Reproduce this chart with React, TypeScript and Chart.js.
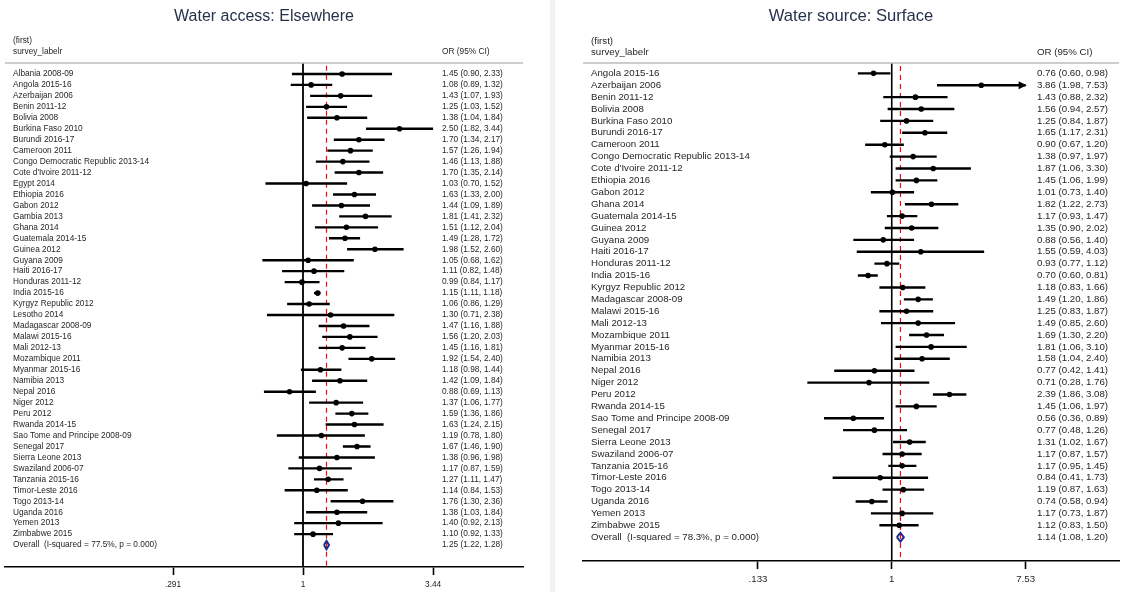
import React, { useEffect, useRef } from 'react';
import { Chart, registerables } from 'chart.js';

Chart.register(...registerables);

const FONT = '"Liberation Sans", Arial, Helvetica, sans-serif';

// ---------------- Left panel data ----------------
const leftTitle = 'Water access: Elsewhere';
const leftCountries = [
  'Albania 2008-09', 'Angola 2015-16', 'Azerbaijan 2006', 'Benin 2011-12', 'Bolivia 2008',
  'Burkina Faso 2010', 'Burundi 2016-17', 'Cameroon 2011', 'Congo Democratic Republic 2013-14',
  "Cote d'Ivoire 2011-12", 'Egypt 2014', 'Ethiopia 2016', 'Gabon 2012', 'Gambia 2013',
  'Ghana 2014', 'Guatemala 2014-15', 'Guinea 2012', 'Guyana 2009', 'Haiti 2016-17',
  'Honduras 2011-12', 'India 2015-16', 'Kyrgyz Republic 2012', 'Lesotho 2014',
  'Madagascar 2008-09', 'Malawi 2015-16', 'Mali 2012-13', 'Mozambique 2011', 'Myanmar 2015-16',
  'Namibia 2013', 'Nepal 2016', 'Niger 2012', 'Peru 2012', 'Rwanda 2014-15',
  'Sao Tome and Principe 2008-09', 'Senegal 2017', 'Sierra Leone 2013', 'Swaziland 2006-07',
  'Tanzania 2015-16', 'Timor-Leste 2016', 'Togo 2013-14', 'Uganda 2016', 'Yemen 2013',
  'Zimbabwe 2015',
];
const leftOR = [
  1.45, 1.08, 1.43, 1.25, 1.38, 2.50, 1.70, 1.57, 1.46, 1.70, 1.03, 1.63, 1.44, 1.81, 1.51,
  1.49, 1.98, 1.05, 1.11, 0.99, 1.15, 1.06, 1.30, 1.47, 1.56, 1.45, 1.92, 1.18, 1.42, 0.88,
  1.37, 1.59, 1.63, 1.19, 1.67, 1.38, 1.17, 1.27, 1.14, 1.76, 1.38, 1.40, 1.10,
];
const leftLower = [
  0.90, 0.89, 1.07, 1.03, 1.04, 1.82, 1.34, 1.26, 1.13, 1.35, 0.70, 1.33, 1.09, 1.41, 1.12,
  1.28, 1.52, 0.68, 0.82, 0.84, 1.11, 0.86, 0.71, 1.16, 1.20, 1.16, 1.54, 0.98, 1.09, 0.69,
  1.06, 1.36, 1.24, 0.78, 1.46, 0.96, 0.87, 1.11, 0.84, 1.30, 1.03, 0.92, 0.92,
];
const leftUpper = [
  2.33, 1.32, 1.93, 1.52, 1.84, 3.44, 2.17, 1.94, 1.88, 2.14, 1.52, 2.00, 1.89, 2.32, 2.04,
  1.72, 2.60, 1.62, 1.48, 1.17, 1.18, 1.29, 2.38, 1.88, 2.03, 1.81, 2.40, 1.44, 1.84, 1.13,
  1.77, 1.86, 2.15, 1.80, 1.90, 1.98, 1.59, 1.47, 1.53, 2.36, 1.84, 2.13, 1.33,
];
const leftArrowRows: string[] = [];
const leftOverall = [1.25, 1.22, 1.28];
const leftOverallLabel = 'Overall  (I-squared = 77.5%, p = 0.000)';
const leftTickValues = [0.291, 1, 3.44];
const leftTickLabels = ['.291', '1', '3.44'];

// ---------------- Right panel data ----------------
const rightTitle = 'Water source: Surface';
const rightCountries = [
  'Angola 2015-16', 'Azerbaijan 2006', 'Benin 2011-12', 'Bolivia 2008', 'Burkina Faso 2010',
  'Burundi 2016-17', 'Cameroon 2011', 'Congo Democratic Republic 2013-14', "Cote d'Ivoire 2011-12",
  'Ethiopia 2016', 'Gabon 2012', 'Ghana 2014', 'Guatemala 2014-15', 'Guinea 2012', 'Guyana 2009',
  'Haiti 2016-17', 'Honduras 2011-12', 'India 2015-16', 'Kyrgyz Republic 2012',
  'Madagascar 2008-09', 'Malawi 2015-16', 'Mali 2012-13', 'Mozambique 2011', 'Myanmar 2015-16',
  'Namibia 2013', 'Nepal 2016', 'Niger 2012', 'Peru 2012', 'Rwanda 2014-15',
  'Sao Tome and Principe 2008-09', 'Senegal 2017', 'Sierra Leone 2013', 'Swaziland 2006-07',
  'Tanzania 2015-16', 'Timor-Leste 2016', 'Togo 2013-14', 'Uganda 2016', 'Yemen 2013',
  'Zimbabwe 2015',
];
const rightOR = [
  0.76, 3.86, 1.43, 1.56, 1.25, 1.65, 0.90, 1.38, 1.87, 1.45, 1.01, 1.82, 1.17, 1.35, 0.88,
  1.55, 0.93, 0.70, 1.18, 1.49, 1.25, 1.49, 1.69, 1.81, 1.58, 0.77, 0.71, 2.39, 1.45, 0.56,
  0.77, 1.31, 1.17, 1.17, 0.84, 1.19, 0.74, 1.17, 1.12,
];
const rightLower = [
  0.60, 1.98, 0.88, 0.94, 0.84, 1.17, 0.67, 0.97, 1.06, 1.06, 0.73, 1.22, 0.93, 0.90, 0.56,
  0.59, 0.77, 0.60, 0.83, 1.20, 0.83, 0.85, 1.30, 1.06, 1.04, 0.42, 0.28, 1.86, 1.06, 0.36,
  0.48, 1.02, 0.87, 0.95, 0.41, 0.87, 0.58, 0.73, 0.83,
];
const rightUpper = [
  0.98, 7.53, 2.32, 2.57, 1.87, 2.31, 1.20, 1.97, 3.30, 1.99, 1.40, 2.73, 1.47, 2.02, 1.40,
  4.03, 1.12, 0.81, 1.66, 1.86, 1.87, 2.60, 2.20, 3.10, 2.40, 1.41, 1.76, 3.08, 1.97, 0.89,
  1.26, 1.67, 1.57, 1.45, 1.73, 1.63, 0.94, 1.87, 1.50,
];
const rightArrowRows = ['Azerbaijan 2006'];
const rightOverall = [1.14, 1.08, 1.20];
const rightOverallLabel = 'Overall  (I-squared = 78.3%, p = 0.000)';
const rightTickValues = [0.133, 1, 7.53];
const rightTickLabels = ['.133', '1', '7.53'];

const headerFirst = '(first)';
const headerLabel = 'survey_labelr';
const headerCI = 'OR (95% CI)';

type Panel = {
  title: string;
  labels: string[];
  or: number[];
  lo: number[];
  hi: number[];
  arrows: string[];
  overall: number[];
  overallLabel: string;
  tickValues: number[];
  tickLabels: string[];
  width: number;
  xMin: number;
  xMax: number;
  padLeft: number;
  padRight: number;
  padTop: number;
  axisHeight: number;
  yMin: number;
  yMax: number;
  fontSize: number;
  tickFont: number;
  tickPad: number;
  titleSize: number;
  titleY: number;
  headY1: number;
  headY2: number;
  ciX: number;
  inset: number;
  diamondHalf: number;
  ciWidth: number;
  nullWidth: number;
};

const leftPanel: Panel = {
  title: leftTitle, labels: leftCountries, or: leftOR, lo: leftLower, hi: leftUpper,
  arrows: leftArrowRows,
  overall: leftOverall, overallLabel: leftOverallLabel,
  tickValues: leftTickValues, tickLabels: leftTickLabels,
  width: 556, xMin: 0.059, xMax: 8.08, padLeft: 5, padRight: 33, padTop: 63, axisHeight: 25,
  yMin: -1, yMax: 45, fontSize: 8.3, tickFont: 8.3, tickPad: 5, titleSize: 16, titleY: 17,
  headY1: 41, headY2: 52, ciX: 442, inset: 8, diamondHalf: 0.38, ciWidth: 2.4, nullWidth: 1.8,
};

const rightPanel: Panel = {
  title: rightTitle, labels: rightCountries, or: rightOR, lo: rightLower, hi: rightUpper,
  arrows: rightArrowRows,
  overall: rightOverall, overallLabel: rightOverallLabel,
  tickValues: rightTickValues, tickLabels: rightTickLabels,
  width: 567, xMin: 0.0095, xMax: 30.8, padLeft: 27, padRight: 3, padTop: 63, axisHeight: 31,
  yMin: -0.87, yMax: 41, fontSize: 9.7, tickFont: 9.7, tickPad: 5, titleSize: 16.6, titleY: 16,
  headY1: 41, headY2: 52, ciX: 481, inset: 8, diamondHalf: 0.37, ciWidth: 2.4, nullWidth: 1.6,
};

const fmt = (v: number) => v.toFixed(2);

function makeTextPlugin(p: Panel) {
  return {
    id: 'forestText',
    afterDraw(chart: any) {
      const { ctx, chartArea, scales } = chart;
      const ys = scales.y;
      const xs = scales.x;
      const n = p.labels.length;
      ctx.save();
      // header separator
      ctx.strokeStyle = '#bcbcbc';
      ctx.lineWidth = 1.5;
      ctx.beginPath();
      ctx.moveTo(chartArea.left, chartArea.top);
      ctx.lineTo(chartArea.right, chartArea.top);
      ctx.stroke();
      // title
      ctx.fillStyle = '#27314d';
      ctx.font = `${p.titleSize}px ${FONT}`;
      ctx.textAlign = 'center';
      ctx.textBaseline = 'middle';
      ctx.fillText(p.title, (chartArea.left + chartArea.right) / 2, p.titleY);
      // headers
      ctx.fillStyle = '#262626';
      ctx.font = `${p.fontSize}px ${FONT}`;
      ctx.textAlign = 'left';
      const lx = chartArea.left + p.inset;
      ctx.fillText(headerFirst, lx, p.headY1);
      ctx.fillText(headerLabel, lx, p.headY2);
      ctx.fillText(headerCI, p.ciX, p.headY2);
      // rows
      for (let i = 0; i < n; i++) {
        const y = ys.getPixelForValue(i);
        ctx.fillText(p.labels[i], lx, y);
        ctx.fillText(`${fmt(p.or[i])} (${fmt(p.lo[i])}, ${fmt(p.hi[i])})`, p.ciX, y);
      }
      const yo = ys.getPixelForValue(n);
      ctx.fillText(p.overallLabel, lx, yo);
      ctx.fillText(`${fmt(p.overall[0])} (${fmt(p.overall[1])}, ${fmt(p.overall[2])})`, p.ciX, yo);
      // arrows for truncated confidence intervals
      ctx.fillStyle = '#000';
      for (let i = 0; i < n; i++) {
        if (p.arrows.includes(p.labels[i])) {
          const tx = xs.getPixelForValue(p.hi[i]);
          const ty = ys.getPixelForValue(i);
          ctx.beginPath();
          ctx.moveTo(tx + 1, ty);
          ctx.lineTo(tx - 7, ty - 4);
          ctx.lineTo(tx - 7, ty + 4);
          ctx.closePath();
          ctx.fill();
        }
      }
      ctx.restore();
    },
  };
}

function buildChart(canvas: HTMLCanvasElement, p: Panel) {
  const n = p.labels.length;
  const ciData: any[] = [];
  p.labels.forEach((_, i) => {
    ciData.push({ x: p.lo[i], y: i }, { x: p.hi[i], y: i }, { x: null, y: null });
  });
  const pts = p.or.map((v, i) => ({ x: v, y: i }));
  const [oOR, oLo, oHi] = p.overall;
  const dia = [
    { x: oLo, y: n },
    { x: oOR, y: n - p.diamondHalf },
    { x: oHi, y: n },
    { x: oOR, y: n + p.diamondHalf },
    { x: oLo, y: n },
  ];
  const nullLine = [{ x: 1, y: p.yMin }, { x: 1, y: p.yMax }];
  const overallLine = [{ x: oOR, y: p.yMin + 0.25 }, { x: oOR, y: p.yMax }];

  return new Chart(canvas, {
    type: 'scatter',
    data: {
      datasets: [
        {
          data: dia, showLine: true, borderColor: '#1c2a8c', borderWidth: 2,
          pointRadius: 0, fill: false, order: 0, tension: 0,
        },
        {
          data: pts, pointRadius: 2.8, pointStyle: 'circle', backgroundColor: '#000',
          borderColor: '#000', pointBorderWidth: 0, order: 1,
        },
        {
          data: ciData, showLine: true, borderColor: '#000', borderWidth: p.ciWidth,
          pointRadius: 0, spanGaps: false, order: 2, borderCapStyle: 'butt',
        },
        {
          data: overallLine, showLine: true, borderColor: '#b0262b', borderWidth: 1.2,
          borderDash: [5, 4], pointRadius: 0, order: 3,
        },
        {
          data: nullLine, showLine: true, borderColor: '#000', borderWidth: p.nullWidth,
          pointRadius: 0, order: 4,
        },
      ],
    } as any,
    options: {
      responsive: false,
      animation: false,
      events: [],
      layout: { padding: { left: p.padLeft, right: p.padRight, top: p.padTop, bottom: 0 } },
      plugins: { legend: { display: false }, tooltip: { enabled: false }, title: { display: false } },
      scales: {
        x: {
          type: 'logarithmic',
          min: p.xMin,
          max: p.xMax,
          bounds: 'data',
          position: 'bottom',
          afterBuildTicks: (s: any) => {
            s.ticks = p.tickValues.map((v) => ({ value: v }));
          },
          afterFit: (s: any) => {
            s.height = p.axisHeight;
          },
          ticks: {
            autoSkip: false,
            maxRotation: 0,
            padding: p.tickPad,
            color: '#262626',
            font: { family: FONT, size: p.tickFont },
            callback: (_v: any, i: number) => p.tickLabels[i],
          },
          grid: {
            display: true,
            drawOnChartArea: false,
            drawTicks: true,
            tickLength: 8,
            tickWidth: 1.6,
            tickColor: '#000',
            color: '#000',
          },
          border: { display: true, color: '#000', width: 1.6 },
        },
        y: {
          type: 'linear',
          display: false,
          reverse: true,
          min: p.yMin,
          max: p.yMax,
        },
      },
    } as any,
    plugins: [makeTextPlugin(p)],
  });
}

function ForestCanvas({ panel, left }: { panel: Panel; left: number }) {
  const ref = useRef<HTMLCanvasElement | null>(null);
  useEffect(() => {
    if (!ref.current) return;
    const chart = buildChart(ref.current, panel);
    return () => chart.destroy();
  }, [panel]);
  return (
    <canvas
      ref={ref}
      width={panel.width}
      height={592}
      style={{ position: 'absolute', left, top: 0, width: panel.width, height: 592 }}
    />
  );
}

export default function App() {
  return (
    <div
      style={{
        position: 'fixed', left: 0, top: 0, width: 1123, height: 592,
        background: '#ffffff', overflow: 'hidden',
      }}
    >
      <div style={{ position: 'absolute', left: 550, top: 0, width: 5, height: 592, background: '#f0f2f4' }} />
      <ForestCanvas panel={leftPanel} left={0} />
      <ForestCanvas panel={rightPanel} left={556} />
    </div>
  );
}
